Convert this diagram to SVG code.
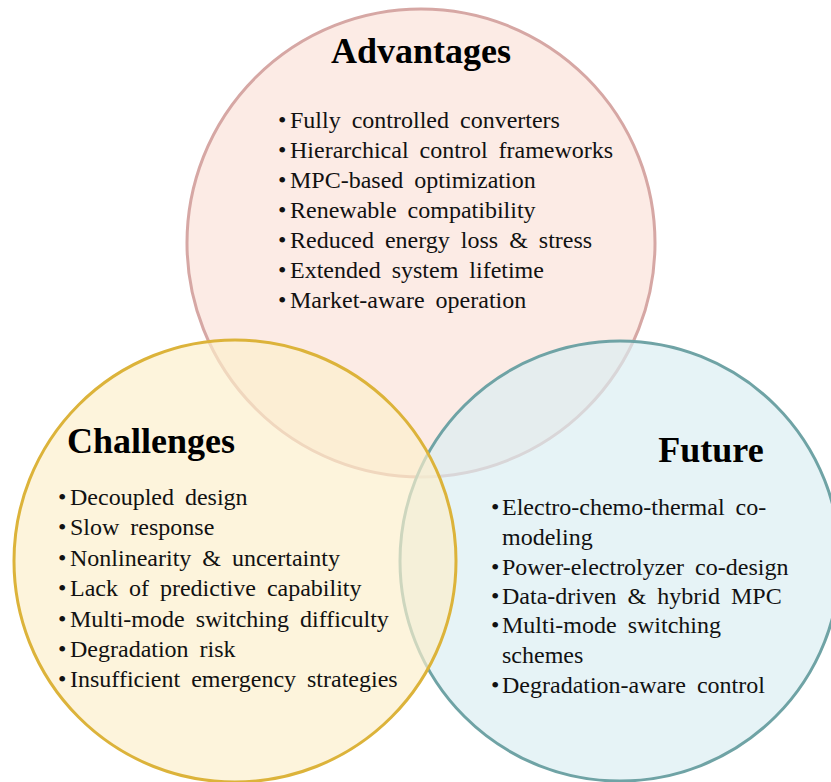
<svg xmlns="http://www.w3.org/2000/svg" width="831" height="782" viewBox="0 0 831 782">
<style>
.title{font-family:"Liberation Serif","Times New Roman",serif;font-weight:bold;font-size:36px;fill:#000}
.body{font-family:"Liberation Serif","Times New Roman",serif;font-size:24px;fill:#111;word-spacing:5px}
.c{stroke-width:3}
</style>
<rect width="831" height="782" fill="#ffffff"/>
<g id="advantages">
<circle class="c" cx="421" cy="243" r="234" fill="#fcebe5" stroke="#d6a7a4"/>
<text class="title" x="421" y="63" text-anchor="middle">Advantages</text>
</g>
<g id="future">
<circle class="c" cx="620" cy="561" r="220" fill="#daedf2" fill-opacity="0.67" stroke="#6fa3a5"/>
<text class="title" x="711" y="462" text-anchor="middle">Future</text>
</g>
<g id="challenges">
<circle class="c" cx="235" cy="561" r="221" fill="#fcefcb" fill-opacity="0.67" stroke="#dcb33a"/>
<text class="title" x="151" y="453" text-anchor="middle">Challenges</text>
</g>
<g id="advantages-items" class="body">
<text y="128"><tspan x="278">•</tspan><tspan x="290">Fully controlled converters</tspan></text>
<text y="158"><tspan x="278">•</tspan><tspan x="290">Hierarchical control frameworks</tspan></text>
<text y="188"><tspan x="278">•</tspan><tspan x="290">MPC-based optimization</tspan></text>
<text y="218"><tspan x="278">•</tspan><tspan x="290">Renewable compatibility</tspan></text>
<text y="248"><tspan x="278">•</tspan><tspan x="290">Reduced energy loss &amp; stress</tspan></text>
<text y="278"><tspan x="278">•</tspan><tspan x="290">Extended system lifetime</tspan></text>
<text y="308"><tspan x="278">•</tspan><tspan x="290">Market-aware operation</tspan></text>
</g>
<g id="challenges-items" class="body">
<text y="505"><tspan x="58">•</tspan><tspan x="70">Decoupled design</tspan></text>
<text y="535"><tspan x="58">•</tspan><tspan x="70">Slow response</tspan></text>
<text y="566"><tspan x="58">•</tspan><tspan x="70">Nonlinearity &amp; uncertainty</tspan></text>
<text y="596"><tspan x="58">•</tspan><tspan x="70">Lack of predictive capability</tspan></text>
<text y="627"><tspan x="58">•</tspan><tspan x="70">Multi-mode switching difficulty</tspan></text>
<text y="657"><tspan x="58">•</tspan><tspan x="70">Degradation risk</tspan></text>
<text y="687"><tspan x="58">•</tspan><tspan x="70">Insufficient emergency strategies</tspan></text>
</g>
<g id="future-items" class="body">
<text y="515"><tspan x="491">•</tspan><tspan x="502">Electro-chemo-thermal co-</tspan></text>
<text y="545"><tspan x="502">modeling</tspan></text>
<text y="575"><tspan x="491">•</tspan><tspan x="502">Power-electrolyzer co-design</tspan></text>
<text y="604"><tspan x="491">•</tspan><tspan x="502">Data-driven &amp; hybrid MPC</tspan></text>
<text y="633"><tspan x="491">•</tspan><tspan x="502">Multi-mode switching</tspan></text>
<text y="663"><tspan x="502">schemes</tspan></text>
<text y="693"><tspan x="491">•</tspan><tspan x="502">Degradation-aware control</tspan></text>
</g>
<g id="connectors"/>
</svg>
